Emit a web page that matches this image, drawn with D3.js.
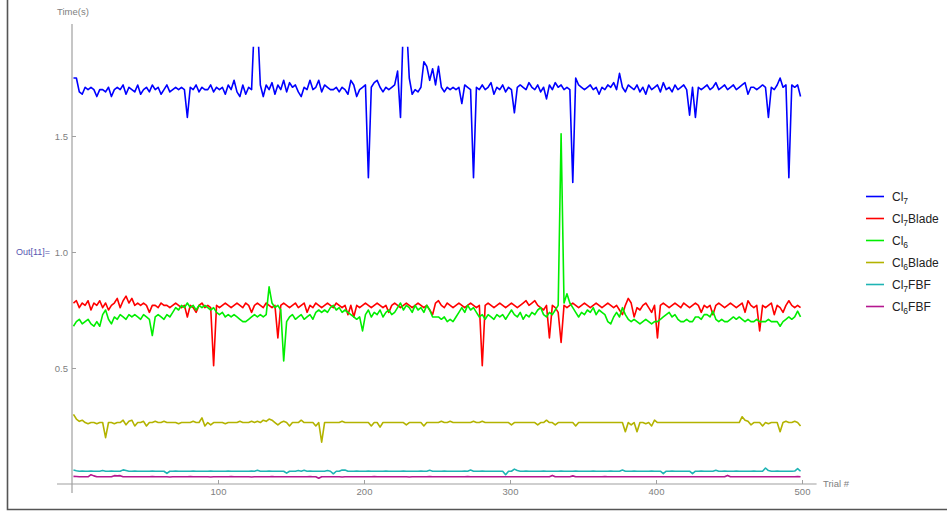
<!DOCTYPE html>
<html>
<head>
<meta charset="utf-8">
<script src="https://cdn.jsdelivr.net/npm/d3@7"></script>
<style>
  body { margin: 0; background: #fff; }
  text { font-family: "Liberation Sans", Arial, sans-serif; }
</style>
</head>
<body>
<svg id="drawing_region"></svg>
<script>
// series names: [base, subscript, suffix]
const seriesLabels = [["Cl","7",""], ["Cl","7","Blade"], ["Cl","6",""], ["Cl","6","Blade"], ["Cl","7","FBF"], ["Cl","6","FBF"]];
const seriesColors = ["#0000ff", "#ff0000", "#00ee00", "#b3b300", "#1eb4b4", "#b5178f"];

// every second trial (1, 3, 5 ... 499)
const trials = d3.range(1, 500, 2);

const cl7 = [
  1.75,1.75,1.69,1.68,1.71, 1.70,1.71,1.70,1.67,1.70, 1.70,1.69,1.71,1.67,1.70, 1.71,1.70,1.72,1.68,1.71, 1.70,1.69,1.72,1.68,1.70,
  1.71,1.69,1.72,1.70,1.71, 1.68,1.70,1.72,1.69,1.70, 1.71,1.70,1.71,1.70,1.58, 1.71,1.70,1.72,1.69,1.71, 1.70,1.70,1.72,1.69,1.71,
  1.70,1.71,1.68,1.72,1.70, 1.74,1.69,1.67,1.72,1.68, 1.71,1.70,2.00,2.00,1.72, 1.67,1.72,1.70,1.73,1.68, 1.72,1.70,1.74,1.69,1.73,
  1.71,1.72,1.69,1.67,1.71, 1.70,1.74,1.70,1.71,1.74, 1.69,1.72,1.71,1.70,1.70, 1.71,1.69,1.71,1.70,1.68, 1.74,1.72,1.67,1.70,1.71,
  1.72,1.32,1.71,1.73,1.74, 1.71,1.69,1.71,1.70,1.71, 1.72,1.78,1.58,2.00,2.00, 1.75,1.68,1.70,1.69,1.71, 1.82,1.80,1.74,1.79,1.72,
  1.80,1.71,1.69,1.71,1.70, 1.71,1.70,1.71,1.64,1.72, 1.71,1.70,1.32,1.71,1.70, 1.72,1.70,1.71,1.73,1.68, 1.71,1.70,1.72,1.69,1.71,
  1.70,1.60,1.71,1.72,1.71, 1.70,1.73,1.71,1.70,1.72, 1.69,1.71,1.66,1.72,1.70, 1.73,1.71,1.72,1.70,1.71, 1.70,1.30,1.75,1.72,1.71,
  1.70,1.71,1.72,1.70,1.71, 1.68,1.71,1.70,1.72,1.71, 1.73,1.70,1.77,1.71,1.69, 1.72,1.71,1.70,1.72,1.69, 1.71,1.68,1.72,1.70,1.71,
  1.72,1.69,1.73,1.70,1.71, 1.69,1.72,1.70,1.71,1.72, 1.70,1.59,1.71,1.58,1.71, 1.70,1.71,1.72,1.70,1.71, 1.73,1.70,1.71,1.72,1.70,
  1.71,1.72,1.70,1.71,1.72, 1.73,1.68,1.71,1.71,1.70, 1.71,1.72,1.71,1.58,1.71, 1.70,1.72,1.75,1.71,1.72, 1.32,1.72,1.71,1.72,1.67
];
const cl7Blade = [
  0.78,0.79,0.76,0.78,0.77, 0.79,0.75,0.78,0.77,0.79, 0.76,0.78,0.75,0.77,0.78, 0.80,0.76,0.79,0.81,0.78, 0.80,0.77,0.78,0.77,0.78,
  0.77,0.74,0.77,0.77,0.76, 0.78,0.77,0.77,0.76,0.77, 0.78,0.77,0.76,0.77,0.72, 0.77,0.76,0.74,0.77,0.78, 0.76,0.77,0.76,0.51,0.77,
  0.76,0.77,0.78,0.77,0.76, 0.77,0.78,0.77,0.76,0.78, 0.77,0.74,0.77,0.78,0.77, 0.76,0.78,0.77,0.76,0.77, 0.63,0.77,0.78,0.77,0.76,
  0.77,0.78,0.76,0.77,0.78, 0.74,0.77,0.76,0.78,0.77, 0.76,0.77,0.78,0.77,0.76, 0.78,0.77,0.76,0.77,0.73, 0.77,0.72,0.77,0.76,0.77,
  0.78,0.77,0.76,0.77,0.78, 0.77,0.76,0.77,0.74,0.77, 0.78,0.77,0.76,0.77,0.78, 0.77,0.76,0.77,0.78,0.77, 0.76,0.77,0.75,0.73,0.78,
  0.79,0.77,0.76,0.78,0.77, 0.76,0.77,0.78,0.77,0.76, 0.77,0.78,0.77,0.76,0.77, 0.51,0.77,0.78,0.77,0.76, 0.77,0.78,0.77,0.76,0.77,
  0.78,0.77,0.76,0.77,0.78, 0.79,0.77,0.78,0.79,0.77, 0.76,0.75,0.77,0.63,0.77, 0.76,0.74,0.61,0.77,0.76, 0.77,0.78,0.77,0.76,0.77,
  0.78,0.77,0.76,0.77,0.78, 0.77,0.76,0.77,0.78,0.77, 0.76,0.77,0.75,0.73,0.77, 0.80,0.78,0.72,0.76,0.75, 0.77,0.78,0.76,0.74,0.77,
  0.63,0.77,0.78,0.77,0.76, 0.77,0.78,0.77,0.76,0.78, 0.77,0.76,0.77,0.78,0.77, 0.74,0.77,0.76,0.77,0.73, 0.77,0.78,0.77,0.76,0.77,
  0.78,0.77,0.76,0.77,0.78, 0.74,0.79,0.77,0.76,0.77, 0.66,0.77,0.76,0.77,0.78, 0.73,0.77,0.76,0.74,0.77, 0.79,0.77,0.76,0.77,0.76
];
const cl6 = [
  0.68,0.70,0.71,0.69,0.70, 0.71,0.69,0.68,0.70,0.68, 0.73,0.75,0.71,0.69,0.72, 0.71,0.73,0.72,0.71,0.73, 0.72,0.73,0.72,0.71,0.73,
  0.72,0.71,0.64,0.72,0.73, 0.72,0.71,0.73,0.72,0.74, 0.76,0.75,0.77,0.76,0.78, 0.76,0.77,0.75,0.77,0.76, 0.77,0.76,0.75,0.76,0.74,
  0.73,0.74,0.72,0.73,0.72, 0.73,0.72,0.71,0.70,0.70, 0.71,0.72,0.73,0.72,0.73, 0.72,0.73,0.85,0.78,0.76, 0.77,0.75,0.53,0.70,0.72,
  0.73,0.71,0.72,0.73,0.71, 0.72,0.73,0.71,0.74,0.75, 0.74,0.75,0.74,0.76,0.77, 0.75,0.76,0.74,0.75,0.74, 0.73,0.72,0.71,0.72,0.66,
  0.73,0.75,0.72,0.74,0.73, 0.75,0.72,0.74,0.75,0.73, 0.74,0.76,0.78,0.75,0.77, 0.76,0.74,0.77,0.75,0.76, 0.74,0.77,0.75,0.72,0.72,
  0.72,0.71,0.72,0.70,0.71, 0.70,0.72,0.74,0.76,0.74, 0.77,0.75,0.76,0.74,0.72, 0.73,0.71,0.73,0.72,0.71, 0.73,0.72,0.73,0.71,0.73,
  0.75,0.73,0.72,0.74,0.71, 0.73,0.72,0.74,0.73,0.75, 0.76,0.73,0.72,0.74,0.73, 0.75,0.77,1.51,0.78,0.82, 0.78,0.76,0.74,0.72,0.74,
  0.73,0.75,0.74,0.76,0.73, 0.75,0.74,0.73,0.70,0.69, 0.72,0.74,0.72,0.76,0.73, 0.71,0.70,0.71,0.70,0.69, 0.70,0.71,0.70,0.69,0.70,
  0.70,0.71,0.72,0.73,0.74, 0.72,0.73,0.71,0.70,0.70, 0.71,0.70,0.70,0.72,0.72, 0.71,0.73,0.73,0.72,0.745, 0.71,0.70,0.71,0.70,0.70,
  0.71,0.72,0.71,0.72,0.71, 0.70,0.71,0.70,0.70,0.71, 0.70,0.70,0.70,0.71,0.70, 0.70,0.70,0.68,0.70,0.71, 0.72,0.71,0.72,0.745,0.72
];
const cl6Blade = [
  0.30,0.28,0.27,0.275,0.265, 0.26,0.265,0.265,0.26,0.265, 0.265,0.20,0.265,0.265,0.26, 0.265,0.265,0.275,0.255,0.27, 0.275,0.25,0.265,0.265,0.27,
  0.25,0.265,0.265,0.27,0.265, 0.265,0.27,0.265,0.265,0.265, 0.265,0.26,0.265,0.265,0.265, 0.265,0.27,0.265,0.265,0.285, 0.25,0.265,0.255,0.265,0.265,
  0.265,0.265,0.26,0.265,0.265, 0.265,0.265,0.27,0.265,0.265, 0.265,0.27,0.265,0.27,0.265, 0.275,0.27,0.28,0.275,0.265, 0.255,0.265,0.27,0.265,0.25,
  0.265,0.265,0.265,0.275,0.265, 0.265,0.265,0.265,0.25,0.265, 0.18,0.265,0.265,0.265,0.265, 0.265,0.265,0.27,0.265,0.265, 0.265,0.265,0.265,0.265,0.265,
  0.265,0.265,0.25,0.265,0.265, 0.245,0.265,0.265,0.265,0.265, 0.265,0.265,0.265,0.265,0.255, 0.265,0.265,0.265,0.265,0.265, 0.25,0.265,0.265,0.265,0.265,
  0.265,0.27,0.265,0.265,0.27, 0.265,0.265,0.265,0.265,0.265, 0.265,0.265,0.27,0.265,0.265, 0.27,0.265,0.265,0.265,0.265, 0.265,0.265,0.265,0.265,0.265,
  0.255,0.265,0.265,0.265,0.265, 0.265,0.265,0.265,0.265,0.255, 0.265,0.265,0.275,0.265,0.265, 0.255,0.265,0.265,0.265,0.265, 0.265,0.265,0.25,0.265,0.265,
  0.265,0.265,0.265,0.265,0.265, 0.265,0.265,0.265,0.265,0.265, 0.265,0.265,0.265,0.265,0.225, 0.265,0.255,0.265,0.225,0.265, 0.265,0.26,0.265,0.25,0.275,
  0.265,0.265,0.265,0.265,0.265, 0.265,0.265,0.265,0.265,0.265, 0.265,0.265,0.265,0.265,0.265, 0.265,0.265,0.265,0.265,0.265, 0.265,0.265,0.265,0.265,0.265,
  0.265,0.265,0.265,0.265,0.29, 0.275,0.27,0.255,0.265,0.265, 0.265,0.25,0.265,0.26,0.265, 0.265,0.265,0.225,0.265,0.27, 0.265,0.265,0.27,0.265,0.25
];
const cl7FBF = [
  0.060,0.057,0.055,0.056,0.055, 0.055,0.056,0.055,0.055,0.055, 0.058,0.055,0.055,0.056,0.055, 0.055,0.055,0.061,0.058,0.055, 0.055,0.056,0.055,0.055,0.055,
  0.055,0.055,0.056,0.055,0.055, 0.055,0.055,0.046,0.055,0.055, 0.056,0.055,0.055,0.055,0.055, 0.055,0.056,0.055,0.055,0.055, 0.055,0.055,0.056,0.055,0.055,
  0.055,0.055,0.055,0.056,0.055, 0.055,0.055,0.055,0.055,0.055, 0.055,0.056,0.055,0.059,0.055, 0.055,0.055,0.056,0.055,0.055, 0.055,0.055,0.055,0.047,0.055,
  0.055,0.055,0.058,0.055,0.059, 0.055,0.056,0.055,0.055,0.055, 0.055,0.055,0.058,0.055,0.044, 0.055,0.055,0.060,0.060,0.055, 0.055,0.055,0.056,0.055,0.055,
  0.055,0.056,0.055,0.055,0.055, 0.055,0.055,0.056,0.055,0.055, 0.055,0.055,0.055,0.056,0.055, 0.055,0.055,0.055,0.055,0.056, 0.055,0.055,0.059,0.055,0.055,
  0.055,0.055,0.056,0.055,0.055, 0.055,0.055,0.055,0.055,0.056, 0.055,0.060,0.055,0.055,0.055, 0.056,0.055,0.055,0.055,0.055, 0.055,0.055,0.055,0.040,0.055,
  0.055,0.064,0.058,0.055,0.055, 0.056,0.055,0.055,0.055,0.055, 0.055,0.056,0.055,0.055,0.055, 0.055,0.055,0.056,0.055,0.055, 0.055,0.055,0.056,0.055,0.055,
  0.055,0.055,0.055,0.056,0.055, 0.055,0.055,0.055,0.055,0.056, 0.055,0.055,0.055,0.060,0.055, 0.055,0.055,0.056,0.055,0.055, 0.055,0.055,0.055,0.056,0.055,
  0.055,0.055,0.045,0.055,0.055, 0.056,0.055,0.055,0.055,0.055, 0.055,0.055,0.045,0.055,0.055, 0.056,0.055,0.055,0.055,0.055, 0.059,0.055,0.055,0.056,0.055,
  0.055,0.055,0.056,0.055,0.055, 0.055,0.055,0.055,0.056,0.055, 0.055,0.055,0.069,0.058,0.055, 0.055,0.056,0.055,0.055,0.055, 0.055,0.055,0.056,0.066,0.055
];
const cl6FBF = [
  0.033,0.032,0.031,0.031,0.031, 0.031,0.040,0.035,0.031,0.031, 0.031,0.031,0.031,0.031,0.036, 0.035,0.036,0.031,0.031,0.031, 0.031,0.031,0.031,0.031,0.031,
  0.031,0.031,0.032,0.031,0.031, 0.031,0.031,0.031,0.030,0.031, 0.031,0.031,0.031,0.031,0.031, 0.032,0.031,0.031,0.031,0.031, 0.031,0.031,0.030,0.031,0.031,
  0.031,0.031,0.031,0.031,0.032, 0.031,0.031,0.031,0.031,0.031, 0.031,0.030,0.031,0.031,0.031, 0.031,0.031,0.031,0.032,0.031, 0.031,0.031,0.031,0.031,0.031,
  0.031,0.031,0.031,0.031,0.031, 0.031,0.032,0.031,0.031,0.025, 0.031,0.031,0.031,0.031,0.031, 0.031,0.031,0.030,0.031,0.031, 0.031,0.031,0.031,0.031,0.031,
  0.031,0.031,0.031,0.032,0.031, 0.031,0.031,0.031,0.031,0.031, 0.031,0.031,0.031,0.031,0.031, 0.030,0.031,0.031,0.031,0.031, 0.031,0.031,0.032,0.031,0.031,
  0.031,0.031,0.031,0.031,0.031, 0.031,0.031,0.031,0.031,0.031, 0.032,0.031,0.031,0.031,0.031, 0.031,0.031,0.031,0.031,0.031, 0.031,0.031,0.031,0.031,0.031,
  0.031,0.031,0.031,0.031,0.031, 0.031,0.031,0.031,0.031,0.031, 0.031,0.031,0.031,0.031,0.037, 0.031,0.031,0.031,0.031,0.031, 0.031,0.035,0.031,0.031,0.031,
  0.031,0.031,0.031,0.031,0.031, 0.031,0.031,0.032,0.031,0.031, 0.031,0.031,0.031,0.031,0.031, 0.031,0.031,0.031,0.031,0.031, 0.031,0.031,0.031,0.031,0.031,
  0.031,0.031,0.031,0.031,0.031, 0.031,0.031,0.031,0.031,0.031, 0.031,0.031,0.031,0.031,0.031, 0.031,0.031,0.031,0.031,0.031, 0.031,0.031,0.031,0.031,0.037,
  0.031,0.031,0.031,0.031,0.031, 0.031,0.031,0.031,0.031,0.031, 0.031,0.031,0.031,0.031,0.031, 0.031,0.031,0.031,0.031,0.031, 0.031,0.031,0.031,0.032,0.031
];

const xMajorTicks = [100, 200, 300, 400, 500];
const yMajorTicks = [0.5, 1.0, 1.5];

const seriesValues = [cl7, cl7Blade, cl6, cl6Blade, cl7FBF, cl6FBF];

class TrialChart {
    constructor( config ) {
        this.config = config;
        this.init();
    }

    init() {
        let self = this;
        self.svg = d3.select( self.config.parent )
            .attr('width', self.config.width)
            .attr('height', self.config.height);

        self.xscale = d3.scaleLinear()
            .domain([0, 500])
            .range([72, 802]);
        self.yscale = d3.scaleLinear()
            .domain([0, 2])
            .range([484, 20]);

        self.line = d3.line()
            .x( (d, i) => self.xscale(trials[i]) )
            .y( d => self.yscale(d) );
    }

    render() {
        let self = this;
        const x = self.xscale, y = self.yscale;
        const axisColor = '#a0a0a0', labelColor = '#808080';

        // frame of the notebook cell
        self.svg.append('path')
            .attr('d', 'M7.5,0 V509.5 H947')
            .attr('fill', 'none')
            .attr('stroke', '#555')
            .attr('stroke-width', 1.6);

        // x axis
        const xg = self.svg.append('g').attr('transform', `translate(0,${y(0)})`);
        xg.call( d3.axisBottom(x).tickValues(d3.range(20, 500, 20).filter(d => d % 100 !== 0))
            .tickSizeInner(-2.5).tickSizeOuter(0).tickFormat('') );
        xg.call( d3.axisBottom(x).tickValues(xMajorTicks)
            .tickSizeInner(-4).tickSizeOuter(0).tickPadding(4) );
        xg.selectAll('.domain').remove();
        xg.selectAll('line').attr('stroke', axisColor);
        xg.selectAll('text').attr('fill', labelColor).style('font-size', '9.5px');
        xg.append('line')
            .attr('x1', x(-10.3)).attr('x2', x(510))
            .attr('stroke', axisColor).attr('stroke-width', 1.2);

        // y axis
        const yg = self.svg.append('g').attr('transform', `translate(${x(0)},0)`);
        yg.call( d3.axisLeft(y).tickValues(d3.range(1, 20).filter(d => d % 5 !== 0).map(d => d / 10))
            .tickSizeInner(-2.5).tickSizeOuter(0).tickFormat('') );
        yg.call( d3.axisLeft(y).tickValues(yMajorTicks)
            .tickSizeInner(-4).tickSizeOuter(0).tickPadding(4).tickFormat(d3.format('.1f')) );
        yg.selectAll('.domain').remove();
        yg.selectAll('line').attr('stroke', axisColor);
        yg.selectAll('text').attr('fill', labelColor).style('font-size', '9.5px');
        yg.append('line')
            .attr('y1', y(1.983)).attr('y2', y(-0.039))
            .attr('stroke', axisColor).attr('stroke-width', 1.2);

        // axis labels
        self.svg.append('text')
            .attr('x', 57).attr('y', 12).attr('dy', '0.35em')
            .attr('fill', labelColor).style('font-size', '9.5px')
            .text('Time(s)');
        self.svg.append('text')
            .attr('x', 823).attr('y', y(0)).attr('dy', '0.35em')
            .attr('fill', labelColor).style('font-size', '9.5px')
            .text('Trial #');
        self.svg.append('text')
            .attr('x', 16).attr('y', y(1.0)).attr('dy', '0.35em')
            .attr('fill', '#5656b0').style('font-size', '9px')
            .text('Out[11]=');

        // plot lines, clipped at the plot range
        self.svg.append('clipPath').attr('id', 'plotclip')
            .append('rect')
            .attr('x', x(0)).attr('y', y(1.885))
            .attr('width', x(500) - x(0) + 4).attr('height', y(0) - y(1.885) + 6);

        self.svg.append('g').attr('clip-path', 'url(#plotclip)')
            .selectAll('path')
            .data(seriesValues)
            .join('path')
            .attr('d', d => self.line(d))
            .attr('fill', 'none')
            .attr('stroke', (d, i) => seriesColors[i])
            .attr('stroke-width', 1.6)
            .attr('stroke-linejoin', 'round');

        // legend
        const legend = self.svg.append('g')
            .selectAll('g')
            .data(seriesLabels)
            .join('g')
            .attr('transform', (d, i) => `translate(866,${196.5 + i * 22})`);
        legend.append('line')
            .attr('x2', 18)
            .attr('stroke', (d, i) => seriesColors[i])
            .attr('stroke-width', 1.6);
        const lt = legend.append('text')
            .attr('x', 26).attr('dy', '0.35em')
            .attr('fill', '#222').style('font-size', '12px');
        lt.append('tspan').text(d => d[0]);
        lt.append('tspan').attr('dy', 3).style('font-size', '8.5px').text(d => d[1]);
        lt.append('tspan').attr('dy', -3).text(d => d[2]);
    }
}

const chart = new TrialChart({ parent: '#drawing_region', width: 947, height: 512 });
chart.render();
</script>
</body>
</html>
